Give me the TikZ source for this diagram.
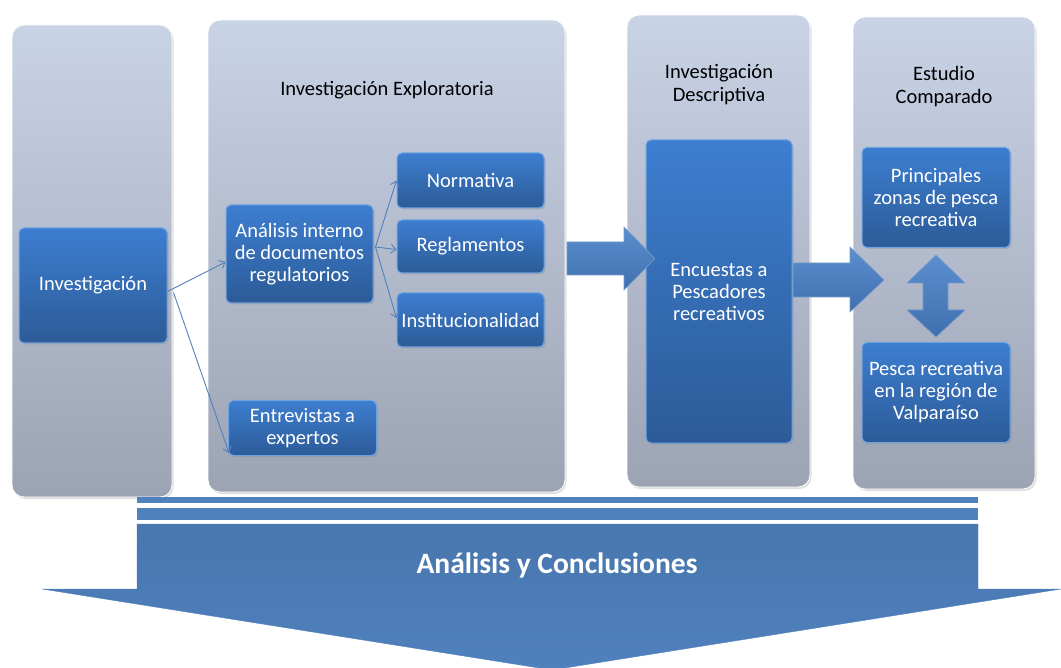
\documentclass[tikz,border=0pt]{standalone}
\usepackage{fontspec}
\setmainfont{Carlito}
\usetikzlibrary{arrows.meta,shadows}
\definecolor{coltop}{HTML}{C9D3E6}
\definecolor{colbot}{HTML}{9CA3B3}
\definecolor{boxtop}{HTML}{3D7ED0}
\definecolor{boxbot}{HTML}{2C5B98}
\definecolor{boxedge}{HTML}{6FA3E0}
\definecolor{arrblue}{HTML}{4F81BD}
\definecolor{arrlight}{HTML}{5C8FD0}
\definecolor{arrdark}{HTML}{3F6FAE}
\tikzset{
  colbox/.style={rounded corners=12pt, top color=coltop, bottom color=colbot, draw=white, line width=0.8pt,
    drop shadow={opacity=0.25, shadow xshift=1.5pt, shadow yshift=-2pt}},
  bluebox/.style={rounded corners=5pt, top color=boxtop, bottom color=boxbot, draw=boxedge, line width=1pt,
    text=white, align=center, inner sep=1pt, font=\fontsize{20.5}{22}\selectfont,
    drop shadow={opacity=0.3, shadow xshift=1.5pt, shadow yshift=-1.5pt}},
  coltitle/.style={text=black, align=center, font=\fontsize{20.5}{23}\selectfont},
  conn/.style={draw=arrblue, line width=0.9pt, -{Straight Barb[length=5pt,width=9pt]}},
  bigarrow/.style={top color=arrlight, bottom color=arrdark, draw=arrblue!80!white, line width=0.6pt}
}
\begin{document}
\begin{tikzpicture}[x=1pt,y=-1pt]
\useasboundingbox (0,0) rectangle (1061,668);
% columns
\node[colbox, minimum width=160, minimum height=472] (c1) at (92,261) {};
\node[colbox, minimum width=357, minimum height=472] (c2) at (386.5,256) {};
\node[colbox, minimum width=183, minimum height=472] (c3) at (718.5,251) {};
\node[colbox, minimum width=182, minimum height=472] (c4) at (944,253) {};
% titles
\node[coltitle] (t2) at (387,90) {Investigación Exploratoria};
\node[coltitle] (t3) at (719,85) {Investigación\\Descriptiva};
\node[coltitle] (t4) at (944,87) {Estudio\\Comparado};
% boxes
\node[bluebox, minimum width=148, minimum height=115] (inv) at (93,285.5) {Investigación};
\node[bluebox, minimum width=147, minimum height=98] (ana) at (299.5,254) {Análisis interno\\de documentos\\regulatorios};
\node[bluebox, minimum width=147, minimum height=55] (nor) at (470.5,180.5) {Normativa};
\node[bluebox, minimum width=147, minimum height=53] (reg) at (470.5,246.5) {Reglamentos};
\node[bluebox, minimum width=147, minimum height=54] (ins) at (470.5,320) {Institucionalidad};
\node[bluebox, minimum width=148, minimum height=55] (ent) at (302.5,428) {Entrevistas a\\expertos};
\node[bluebox, minimum width=146, minimum height=303] (enc) at (719,291.5) {Encuestas a\\Pescadores\\recreativos};
\node[bluebox, minimum width=148, minimum height=100] (pri) at (936,197.5) {Principales\\zonas de pesca\\recreativa};
\node[bluebox, minimum width=148, minimum height=100] (pes) at (936,392.5) {Pesca recreativa\\en la región de\\Valparaíso};
% connectors
\draw[conn] ([yshift=-6pt]inv.east) -- ([yshift=-8pt]ana.west);
\draw[conn] ([xshift=6pt,yshift=-7pt]inv.east) -- ([xshift=1pt,yshift=3pt]ent.south west);
\draw[conn] ([xshift=2pt,yshift=7pt]ana.east) -- (nor.west);
\draw[conn] ([xshift=2pt,yshift=7pt]ana.east) -- ([yshift=-3pt]reg.west);
\draw[conn] ([xshift=2pt,yshift=7pt]ana.east) -- ([yshift=2pt]ins.west);
% big arrows
\path[bigarrow] (567,242) -- (624,242) -- (624,227) -- (655,258.5) -- (624,290) -- (624,275) -- (567,275) -- cycle;
\path[bigarrow] (793,263) -- (850,263) -- (850,247) -- (884,280) -- (850,312) -- (850,297) -- (793,297) -- cycle;
\path[bigarrow] (936,255) -- (965,283) -- (948,283) -- (948,310) -- (965,310) -- (936,337) -- (907,310) -- (923,310) -- (923,283) -- (907,283) -- cycle;
% bottom arrow
\fill[arrblue] (137,497) rectangle (978,503);
\fill[arrblue] (137,508) rectangle (978,520);
\path[top color=arrblue!92!black, bottom color=arrblue, draw=arrblue] (137,524) -- (978,524) -- (978,589) -- (1061,589) -- (552,670) -- (42,589) -- (137,589) -- cycle;
\node[text=white, font=\bfseries\fontsize{29.5}{32}\selectfont] (ac) at (557,565) {Análisis y Conclusiones};
\end{tikzpicture}
\end{document}
